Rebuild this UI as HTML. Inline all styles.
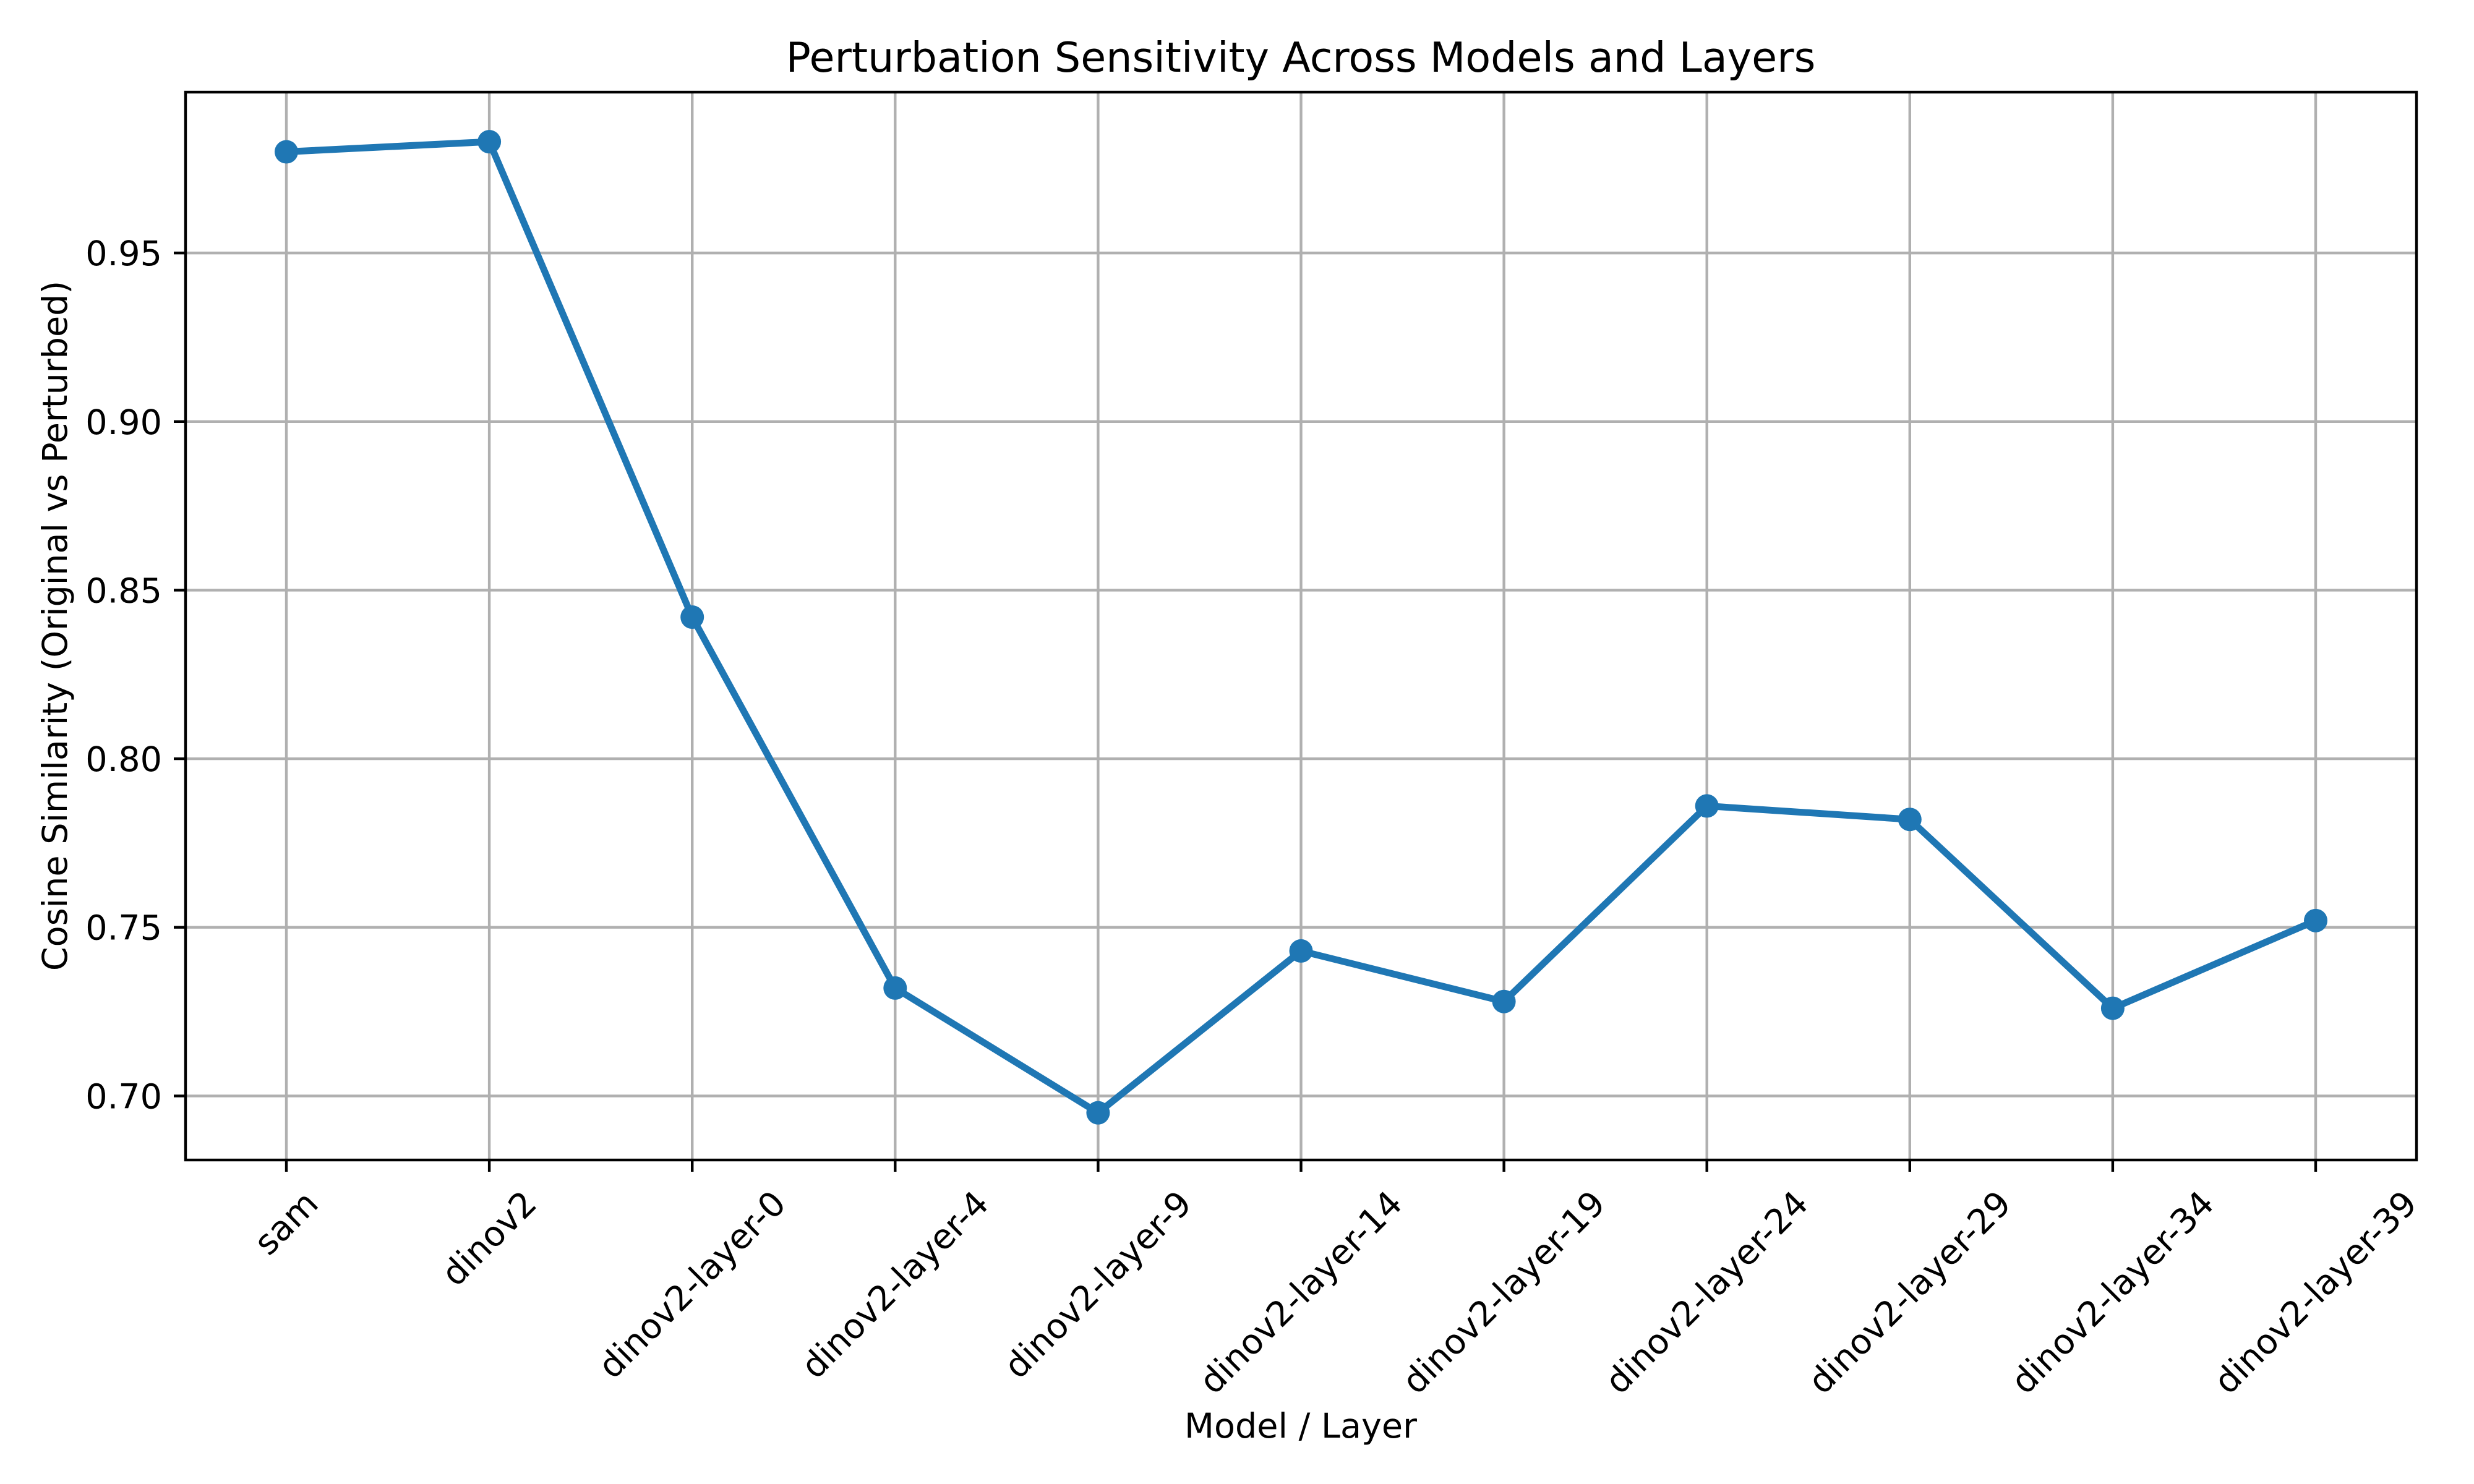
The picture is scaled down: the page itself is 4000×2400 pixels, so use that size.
<!DOCTYPE html>
<html><head><meta charset="utf-8"><style>
html,body{margin:0;padding:0;background:#fff;}
svg{display:block;font-family:"DejaVu Sans","Liberation Sans",sans-serif;}
</style></head><body>
<svg id="chart" width="4000" height="2400" viewBox="0 0 4000 2400" xmlns="http://www.w3.org/2000/svg">
<rect width="4000" height="2400" fill="#fff"/>
<g id="grid"></g>
<g id="series"></g>
<rect x="300" y="149" width="3607" height="1727" fill="none" stroke="#000" stroke-width="4.4"/>
<g id="ticks"></g>
<text x="2103" y="116" font-size="66.7" text-anchor="middle">Perturbation Sensitivity Across Models and Layers</text>
<text x="2103" y="2325" font-size="55.6" text-anchor="middle">Model / Layer</text>
<text transform="translate(108,1012) rotate(-90)" font-size="55.6" text-anchor="middle">Cosine Similarity (Original vs Perturbed)</text>
</svg>
<script>
const categories = ["sam","dinov2","dinov2-layer-0","dinov2-layer-4","dinov2-layer-9","dinov2-layer-14","dinov2-layer-19","dinov2-layer-24","dinov2-layer-29","dinov2-layer-34","dinov2-layer-39"];
const values = [0.980,0.983,0.842,0.732,0.695,0.743,0.728,0.786,0.782,0.726,0.752];
const yTicks = [0.70,0.75,0.80,0.85,0.90,0.95];
const yTickLabels = ["0.70","0.75","0.80","0.85","0.90","0.95"];

const NS = "http://www.w3.org/2000/svg";
const L = 300, R = 3907, T = 149, B = 1876;
const yMin = 0.681, yMax = 0.9977;
const xFirst = 463, xLast = 3744;
function xPos(i){ return xFirst + (xLast - xFirst) * i / (categories.length - 1); }
function yPos(v){ return B - (v - yMin) / (yMax - yMin) * (B - T); }
function mk(tag, attrs, parent){ const e = document.createElementNS(NS, tag); for (const k in attrs) e.setAttribute(k, attrs[k]); parent.appendChild(e); return e; }

const grid = document.getElementById('grid');
const ticks = document.getElementById('ticks');
const series = document.getElementById('series');

yTicks.forEach((v, i) => {
  const y = yPos(v);
  const g = mk('line', {x1:L, x2:R, y1:y, y2:y, stroke:'#b0b0b0', 'stroke-width':4.4}, grid);
  
  
  const t = mk('line', {x1:L-19, x2:L, y1:y, y2:y, stroke:'#000', 'stroke-width':4.4}, ticks);
  
  
  const lb = mk('text', {x:L-38, y:y+20, 'font-size':55.6, 'text-anchor':'end'}, ticks);
  lb.textContent = yTickLabels[i];
  
  
});

categories.forEach((c, i) => {
  const x = xPos(i);
  const g = mk('line', {x1:x, x2:x, y1:T, y2:B, stroke:'#b0b0b0', 'stroke-width':4.4}, grid);
  
  
  const t = mk('line', {x1:x, x2:x, y1:B, y2:B+19, stroke:'#000', 'stroke-width':4.4}, ticks);
  
  
  const lb = mk('text', {'font-size':55.6, 'text-anchor':'middle', 'dominant-baseline':'central'}, ticks);
  lb.textContent = c;
  
  
  const w = lb.getComputedTextLength ? lb.getComputedTextLength() : c.length * 33;
  const h = 55.6 * 1.16;
  const bh = (w + h) / Math.SQRT2;
  const cy = B + 19 + 19 + bh / 2;
  lb.setAttribute('transform', 'translate(' + x + ',' + cy + ') rotate(-45)');
});

const pts = values.map((v, i) => xPos(i) + ',' + yPos(v)).join(' ');
const pl = mk('polyline', {points:pts, fill:'none', stroke:'#1f77b4', 'stroke-width':11, 'stroke-linejoin':'round', 'stroke-linecap':'square'}, series);


values.forEach((v, i) => {
  const m = mk('circle', {cx:xPos(i), cy:yPos(v), r:19, fill:'#1f77b4'}, series);
  
  
});
</script>
</body></html>
